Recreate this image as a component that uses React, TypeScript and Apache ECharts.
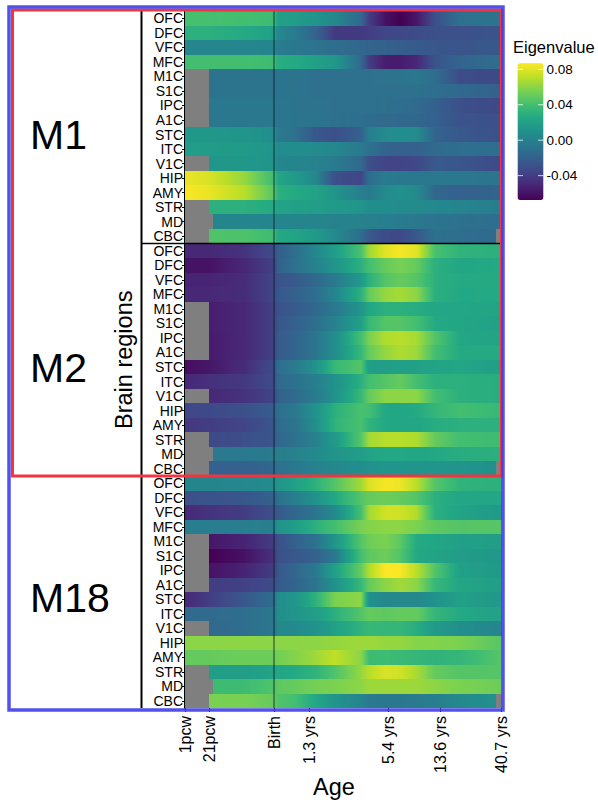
import React, { useEffect, useRef } from "react";
import * as echarts from "echarts";

const FONT = "Liberation Sans";
const regions = ["OFC", "DFC", "VFC", "MFC", "M1C", "S1C", "IPC", "A1C", "STC", "ITC", "V1C", "HIP", "AMY", "STR", "MD", "CBC"];
// Position of each estimated column along the (log-like) age axis
const ageStops = [0, 24, 60, 89, 93, 110, 130, 150, 176, 184, 200, 215, 232, 250, 275, 316.5];
const ageTicks = [0, 24, 89, 124, 203, 255, 316.5];
const ageLabels = ["1pcw", "21pcw", "Birth", "1.3 yrs", "5.4 yrs", "13.6 yrs", "40.7 yrs"];
const birthAge = 89;
const valueMin = -0.0675;
const valueMax = 0.0868;
const legendTicks = [0.08, 0.04, 0, -0.04];
const viridis = ["#440154", "#482475", "#414487", "#355f8d", "#2a788e", "#21918c", "#22a884", "#44bf70", "#7ad151", "#bddf26", "#fde725"];
// Missing measurements: region, from, to
const missing: [string, number, number][] = [
  ["M1C", 0, 24], ["S1C", 0, 24], ["IPC", 0, 24], ["A1C", 0, 24], ["V1C", 0, 24],
  ["STR", 0, 24], ["MD", 0, 28], ["CBC", 0, 24], ["CBC", 311, 316.5],
];

const m1 = [
  [.041, .041, .04, .038, .02, .018, .012, .004, -.015, -.04, -.06, -.068, -.058, -.03, -.01, -.008],
  [.03, .03, .026, .02, .004, -.004, -.018, -.042, -.042, -.04, -.035, -.035, -.032, -.03, -.03, -.028],
  [.003, .003, .003, .002, -.003, -.006, -.008, -.012, -.016, -.018, -.02, -.022, -.024, -.026, -.027, -.025],
  [.04, .04, .04, .038, .028, .026, .02, .014, -.015, -.04, -.055, -.056, -.05, -.028, -.018, -.012],
  [null, -.008, -.008, -.008, -.008, -.009, -.01, -.01, -.01, -.01, -.009, -.008, -.006, -.012, -.032, -.034],
  [null, -.008, -.008, -.008, -.008, -.009, -.01, -.01, -.01, -.01, -.01, -.01, -.01, -.012, -.015, -.02],
  [null, -.006, -.006, -.006, -.007, -.008, -.009, -.01, -.01, -.01, -.011, -.012, -.014, -.02, -.03, -.034],
  [null, -.006, -.006, -.006, -.007, -.008, -.009, -.01, -.012, -.013, -.014, -.015, -.016, -.02, -.028, -.03],
  [.014, .014, .012, .008, -.005, -.01, -.025, -.03, -.02, -.002, .006, .008, .006, -.018, -.025, -.03],
  [.018, .017, .016, .012, .006, .008, .006, .004, -.005, -.01, -.018, -.02, -.02, -.014, -.012, -.012],
  [null, .014, .014, .012, .003, .002, .001, -.004, -.015, -.03, -.036, -.036, -.034, -.024, -.026, -.034],
  [.082, .078, .062, .038, .024, .016, .005, -.03, -.036, -.012, -.004, -.006, -.006, -.006, -.006, -.008],
  [.086, .082, .07, .046, .03, .026, .022, .012, -.002, -.005, .006, .01, .005, -.016, -.02, -.018],
  [null, .03, .03, .026, .022, .02, .018, .016, .012, .008, .008, .006, .006, .004, .002, -.002],
  [null, .002, .002, .002, .002, .002, .002, .001, 0, 0, -.002, -.004, -.006, -.008, -.01, -.012],
  [null, .044, .043, .038, .026, .022, .016, .005, -.012, -.025, -.032, -.034, -.025, -.01, -.012, -.015],
];
const m2 = [
  [-.05, -.05, -.045, -.032, -.022, -.012, .003, .018, .042, .064, .08, .085, .08, .042, .032, .03],
  [-.06, -.06, -.05, -.038, -.02, -.01, 0, .012, .03, .04, .05, .055, .05, .03, .024, .026],
  [-.052, -.052, -.048, -.036, -.028, -.024, -.015, -.005, .015, .03, .045, .05, .045, .03, .026, .026],
  [-.05, -.05, -.048, -.036, -.025, -.02, -.012, .002, .03, .05, .062, .066, .06, .03, .025, .026],
  [null, -.055, -.05, -.038, -.028, -.024, -.016, -.005, .012, .024, .03, .03, .028, .024, .024, .022],
  [null, -.055, -.05, -.038, -.026, -.02, -.012, 0, .02, .035, .045, .045, .04, .026, .024, .02],
  [null, -.056, -.05, -.038, -.024, -.018, -.008, .008, .04, .055, .068, .07, .066, .045, .024, .022],
  [null, -.056, -.05, -.038, -.024, -.018, -.008, .008, .035, .05, .062, .068, .064, .04, .026, .026],
  [-.062, -.058, -.048, -.032, -.012, -.004, .01, .035, .045, .018, .018, .02, .02, .022, .024, .018],
  [-.05, -.046, -.042, -.032, -.015, -.01, -.002, .01, .03, .04, .045, .05, .04, .03, .03, .028],
  [null, -.05, -.045, -.036, -.02, -.014, -.004, .01, .035, .05, .06, .06, .06, .04, .03, .028],
  [-.035, -.033, -.03, -.022, -.012, -.005, .01, .03, .042, .04, .025, .024, .026, .034, .04, .035],
  [-.042, -.04, -.036, -.026, -.014, -.008, .008, .032, .042, .032, .025, .024, .024, .028, .03, .03],
  [null, -.034, -.03, -.026, -.016, -.01, 0, .015, .045, .065, .07, .07, .068, .05, .04, .038],
  [null, -.005, -.005, -.004, -.002, 0, .005, .012, .018, .022, .025, .025, .024, .025, .028, .03],
  [null, -.02, -.02, -.016, -.01, -.006, 0, .004, .008, .01, .012, .012, .012, .012, .012, .008],
];
const m18 = [
  [.002, .002, .004, .006, .012, .02, .03, .045, .065, .078, .085, .083, .07, .045, .032, .03],
  [-.03, -.028, -.026, -.02, -.01, -.002, .01, .025, .045, .05, .052, .05, .045, .03, .024, .024],
  [-.05, -.045, -.04, -.03, -.025, -.016, -.008, .005, .04, .065, .076, .076, .068, .03, .022, .015],
  [-.002, -.002, -.002, -.001, .01, .018, .03, .04, .055, .058, .06, .06, .056, .048, .045, .046],
  [null, -.058, -.052, -.04, -.03, -.02, -.01, .012, .045, .052, .056, .048, .026, .024, .02, .018],
  [null, -.068, -.06, -.045, -.03, -.025, -.02, -.005, .04, .048, .052, .045, .025, .022, .018, .014],
  [null, -.06, -.052, -.04, -.026, -.016, -.006, .02, .05, .068, .086, .086, .07, .045, .02, .015],
  [null, -.04, -.038, -.032, -.024, -.018, -.008, .01, .035, .05, .06, .065, .06, .035, .024, .018],
  [-.05, -.04, -.025, -.012, .008, .012, .03, .056, .06, .01, .004, .004, .004, .01, .02, .014],
  [-.015, -.014, -.012, -.006, .008, .012, .018, .03, .045, .05, .048, .05, .05, .034, .026, .02],
  [null, -.015, -.012, -.006, .004, .005, .01, .02, .032, .035, .034, .034, .028, .016, .008, .002],
  [.06, .06, .06, .06, .06, .06, .06, .062, .064, .064, .062, .062, .058, .058, .056, .046],
  [.05, .05, .052, .052, .054, .058, .064, .072, .06, .038, .038, .036, .034, .032, .034, .046],
  [null, .018, .018, .022, .024, .026, .032, .044, .062, .07, .078, .076, .066, .05, .045, .045],
  [null, .038, .038, .044, .048, .05, .054, .056, .06, .064, .064, .064, .064, .06, .056, .052],
  [null, .056, .055, .05, .044, .04, .025, .012, .002, -.005, -.006, -.006, -.004, -.002, .005, .01],
];
const modules = [
  { name: "M1", rows: m1 },
  { name: "M2", rows: m2 },
  { name: "M18", rows: m18 },
];

function hexToRgb(h: string) {
  return [parseInt(h.slice(1, 3), 16), parseInt(h.slice(3, 5), 16), parseInt(h.slice(5, 7), 16)];
}
function colorOf(v: number) {
  const t = Math.max(0, Math.min(1, (v - valueMin) / (valueMax - valueMin))) * (viridis.length - 1);
  const i = Math.min(viridis.length - 2, Math.floor(t));
  const a = hexToRgb(viridis[i]);
  const b = hexToRgb(viridis[i + 1]);
  const f = t - i;
  return `rgb(${a.map((c, k) => Math.round(c + (b[k] - c) * f)).join(",")})`;
}

function renderSegment(_: any, api: any) {
  const x0 = api.value(0), x1 = api.value(1), row = api.value(2);
  const v0 = api.value(3), v1 = api.value(4);
  const start = api.coord([x0, row]);
  const end = api.coord([x1, row]);
  const h = api.size([0, 1])[1];
  const left = Math.round(start[0]), right = Math.round(end[0]);
  const top = Math.round(start[1] - h / 2), bottom = Math.round(start[1] + h / 2);
  let fill: any = "#7f7f7f";
  if (!(v0 == null || isNaN(v0))) {
    const stops = [];
    for (let k = 0; k <= 6; k++) {
      stops.push({ offset: k / 6, color: colorOf(v0 + ((v1 - v0) * k) / 6) });
    }
    fill = new echarts.graphic.LinearGradient(0, 0, 1, 0, stops);
  }
  return {
    type: "rect",
    shape: { x: left, y: top, width: right - left, height: bottom - top },
    style: { fill, stroke: null },
  };
}

function renderBirth(params: any, api: any) {
  const p = api.coord([api.value(0), 0]);
  const c = params.coordSys;
  return {
    type: "line",
    shape: { x1: p[0], y1: c.y, x2: p[0], y2: c.y + c.height },
    style: { stroke: "rgba(10,30,40,0.85)", lineWidth: 1 },
  };
}

function buildSegments(rows: (number | null)[][]) {
  const out: any[] = [];
  rows.forEach((vals, r) => {
    for (let i = 0; i < ageStops.length - 1; i++) {
      if (vals[i] == null) continue;
      out.push([ageStops[i], ageStops[i + 1], r, vals[i], vals[i + 1]]);
    }
  });
  missing.forEach(([name, a, b]) => {
    out.push([a, b, regions.indexOf(name), null, null]);
  });
  return out;
}

const gridTops = [11, 243.5, 476];
const gridH = [232.5, 232.5, 232];
const gridLeft = 185;
const gridW = 316.5;

function App() {
  const ref = useRef<HTMLDivElement>(null);
  useEffect(() => {
    document.body.style.margin = "0";
    const chart = echarts.init(ref.current!, undefined, { renderer: "svg" });
    const legendY = (v: number) => 200 - ((v - valueMin) / (valueMax - valueMin)) * 136.7;
    const graphic: any[] = [
      { type: "line", z: 50, shape: { x1: 141.5, y1: 11, x2: 141.5, y2: 708 }, style: { stroke: "#000", lineWidth: 2 } },
      { type: "line", z: 50, shape: { x1: 141, y1: 243.5, x2: 501, y2: 243.5 }, style: { stroke: "#000", lineWidth: 1.5 } },
      { type: "rect", z: 60, shape: { x: 12.5, y: 10, width: 489, height: 466 }, style: { fill: "none", stroke: "#f2343f", lineWidth: 3 } },
      { type: "rect", z: 61, shape: { x: 9, y: 7, width: 494, height: 703 }, style: { fill: "none", stroke: "#3f3fe8", lineWidth: 3.5, opacity: 0.9 } },
      ...modules.map((m, i) => ({
        type: "text", z: 62, x: 30, y: [135, 368, 598][i],
        style: { text: m.name, font: `41px "${FONT}"`, fill: "#000", textVerticalAlign: "middle" },
      })),
      { type: "text", z: 62, x: 334, y: 787, style: { text: "Age", font: `23.5px "${FONT}"`, fill: "#000", textAlign: "center", textVerticalAlign: "middle" } },
      { type: "text", z: 62, x: 513, y: 47, style: { text: "Eigenvalue", font: `16.5px "${FONT}"`, fill: "#000", textVerticalAlign: "middle" } },
    ];
    legendTicks.forEach((v) => {
      const y = legendY(v);
      graphic.push(
        { type: "text", z: 62, x: 546.5, y, style: { text: v === 0 ? "0.00" : v.toFixed(2), font: `13.5px "${FONT}"`, fill: "#000", textVerticalAlign: "middle" } },
        { type: "line", z: 62, shape: { x1: 517.5, y1: y, x2: 523, y2: y }, style: { stroke: "rgba(255,255,255,.75)", lineWidth: 1 } },
        { type: "line", z: 62, shape: { x1: 538, y1: y, x2: 543.5, y2: y }, style: { stroke: "rgba(255,255,255,.75)", lineWidth: 1 } },
      );
    });
    const heat = modules.map((m, i) => ({
      type: "custom", xAxisIndex: i, yAxisIndex: i, silent: true, z: 2,
      encode: { x: [0, 1], y: 2 },
      data: buildSegments(m.rows as any),
      renderItem: renderSegment,
    }));
    const birth = modules.map((_, i) => ({
      type: "custom", xAxisIndex: i, yAxisIndex: i, silent: true, z: 3,
      encode: { x: 0, y: 1 },
      data: [[birthAge, 0]],
      renderItem: renderBirth,
    }));
    chart.setOption({
      animation: false,
      backgroundColor: "#fff",
      graphic,
      visualMap: {
        type: "continuous", seriesIndex: [], min: valueMin, max: valueMax, calculable: false,
        left: 517.5, top: 63.3, itemWidth: 26, itemHeight: 136.7, padding: 0, text: ["", ""],
        inRange: { color: viridis },
      },
      grid: modules.map((_, i) => ({ left: gridLeft, width: gridW, top: gridTops[i], height: gridH[i] })),
      xAxis: modules.map((_, i) =>
        i < 2
          ? { gridIndex: i, type: "value", min: 0, max: 316.5, show: false }
          : {
              gridIndex: i, type: "value", min: 0, max: 316.5,
              splitLine: { show: false },
              axisLine: { show: false },
              axisTick: { show: true, customValues: ageTicks, length: 4, lineStyle: { color: "#000", width: 1 } },
              axisLabel: {
                show: true, customValues: ageTicks, rotate: 90, margin: 8, hideOverlap: false,
                fontFamily: FONT, fontSize: 16, color: "#000",
                formatter: (v: number) => ageLabels[ageTicks.indexOf(v)] ?? "",
              },
            },
      ),
      yAxis: modules.map((_, i) => ({
        gridIndex: i, type: "category", inverse: true, data: regions,
        name: i === 1 ? "Brain regions" : "",
        nameLocation: "middle", nameGap: 49, nameRotate: 90,
        nameTextStyle: { fontFamily: FONT, fontSize: 23.5, color: "#000" },
        axisLine: { show: true, lineStyle: { color: "#000", width: 2 } },
        axisTick: { show: true, alignWithLabel: true, length: 3, lineStyle: { color: "#000", width: 1 } },
        axisLabel: { interval: 0, margin: 2, fontFamily: FONT, fontSize: 14, color: "#000" },
      })),
      series: [...heat, ...birth],
    } as any);
    return () => chart.dispose();
  }, []);
  return <div ref={ref} style={{ width: 598, height: 802 }} />;
}

export default App;
